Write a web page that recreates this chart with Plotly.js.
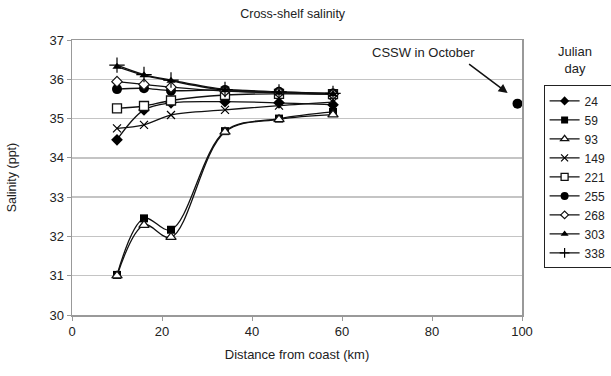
<!DOCTYPE html>
<html>
<head>
<meta charset="utf-8">
<script src="https://cdn.plot.ly/plotly-3.0.1.min.js"></script>
<style>
  html, body { margin: 0; padding: 0; background: #fff; }
  #chart { width: 611px; height: 376px; }
</style>
</head>
<body>
<div id="chart"></div>
<script>
// Distance from coast (km) of the sampling stations
const distanceKm = [10, 16, 22, 34, 46, 58];

// Salinity (ppt) per Julian day
const julianDays = ['24', '59', '93', '149', '221', '255', '268', '303', '338'];
const sal24  = [34.46, 35.22, 35.40, 35.43, 35.40, 35.35];
const sal59  = [31.02, 32.46, 32.17, 34.68, 35.00, 35.17];
const sal93  = [31.00, 32.29, 31.98, 34.66, 34.98, 35.10];
const sal149 = [34.75, 34.84, 35.09, 35.22, 35.33, 35.42];
const sal221 = [35.26, 35.32, 35.46, 35.60, 35.63, 35.62];
const sal255 = [35.75, 35.77, 35.71, 35.73, 35.68, 35.64];
const sal268 = [35.94, 35.87, 35.80, 35.70, 35.66, 35.62];
const sal303 = [36.32, 36.10, 35.96, 35.72, 35.66, 35.62];
const sal338 = [36.36, 36.12, 35.98, 35.74, 35.68, 35.64];

// Offshore CSSW sample in October
const csswX = [99];
const csswY = [35.38];

const series = [sal24, sal59, sal93, sal149, sal221, sal255, sal268, sal303, sal338];

// marker style for each day: [symbol, size, fill colour, outline width, legend size]
const markerStyles = [
  ['diamond', 9, '#000', 0, 7],
  ['square', 8, '#000', 0, 7],
  ['triangle-up', 9, '#fff', 1.3, 7],
  ['x-thin-open', 8, '#000', 1.2, 7],
  ['square', 9, '#fff', 1.3, 7],
  ['circle', 10, '#000', 0, 8],
  ['diamond', 8, '#fff', 1.2, 6],
  ['triangle-up', 8, '#000', 0, 7],
  ['cross-thin-open', 11, '#000', 1.2, 7]
];

const lineStyle = { color: '#111', width: 1.3, shape: 'spline', smoothing: 1 };

const traces = [];
series.forEach((vals, i) => {
  const s = markerStyles[i];
  traces.push({
    x: distanceKm,
    y: vals,
    name: julianDays[i],
    legendgroup: julianDays[i],
    showlegend: false,
    type: 'scatter',
    mode: 'lines+markers',
    line: lineStyle,
    marker: {
      symbol: s[0], size: s[1], color: s[2],
      line: { color: '#111', width: s[3] }
    },
    cliponaxis: false
  });
});

// legend keys with the smaller symbols used in the key box
series.forEach((vals, i) => {
  const s = markerStyles[i];
  traces.push({
    x: [null], y: [null],
    name: julianDays[i],
    legendgroup: julianDays[i],
    type: 'scatter',
    mode: 'lines+markers',
    line: { color: '#111', width: 1.2 },
    marker: {
      symbol: s[0], size: s[4], color: s[2],
      line: { color: '#111', width: s[3] }
    }
  });
});

traces.push({
  x: csswX, y: csswY, type: 'scatter', mode: 'markers',
  marker: { symbol: 'circle', size: 10, color: '#000' },
  showlegend: false, cliponaxis: false, hoverinfo: 'skip'
});

const font = { family: '"Liberation Sans", Arial, sans-serif', size: 13, color: '#222' };

const layout = {
  width: 611,
  height: 376,
  margin: { l: 72, r: 89, t: 40, b: 61, autoexpand: false },
  paper_bgcolor: '#fff',
  plot_bgcolor: '#fff',
  font: font,
  showlegend: true,
  title: {
    text: 'Cross-shelf salinity',
    font: { family: font.family, size: 12.5, color: '#222' },
    x: 0.479, xanchor: 'center', y: 0.963, yanchor: 'middle'
  },
  xaxis: {
    range: [0, 100],
    tickvals: [0, 20, 40, 60, 80, 100],
    ticks: 'outside', ticklen: 4, tickcolor: '#999',
    showgrid: false, zeroline: false,
    showline: true, linecolor: '#999', linewidth: 1.5, mirror: true,
    tickfont: { family: font.family, size: 13, color: '#222' },
    title: { text: 'Distance from coast (km)', standoff: 12,
             font: { family: font.family, size: 13, color: '#222' } }
  },
  yaxis: {
    range: [30, 37],
    tickvals: [30, 31, 32, 33, 34, 35, 36, 37],
    ticks: 'outside', ticklen: 4, tickcolor: '#999',
    showgrid: true, gridcolor: '#c4c4c4', gridwidth: 1.5,
    zeroline: false,
    showline: true, linecolor: '#999', linewidth: 1.5, mirror: true,
    tickfont: { family: font.family, size: 13, color: '#222' },
    title: { text: 'Salinity (ppt)', standoff: 30,
             font: { family: font.family, size: 12.5, color: '#222' } }
  },
  legend: {
    x: 1.048, xanchor: 'left',
    y: 0.835, yanchor: 'top',
    bgcolor: '#fff',
    bordercolor: '#222', borderwidth: 1,
    font: { family: font.family, size: 12, color: '#222' },
    itemwidth: 30,
    entrywidth: 70,
    tracegroupgap: 0
  },
  annotations: [
    {
      xref: 'paper', yref: 'paper', x: 1.118, y: 0.928,
      xanchor: 'center', yanchor: 'middle', showarrow: false,
      text: 'Julian<br>day', align: 'center',
      font: { family: font.family, size: 13, color: '#222' }
    },
    {
      xref: 'x', yref: 'y', x: 78, y: 36.67,
      xanchor: 'center', yanchor: 'middle', showarrow: false,
      text: 'CSSW in October',
      font: { family: font.family, size: 13, color: '#222' }
    },
    {
      xref: 'x', yref: 'y', x: 96.8, y: 35.65,
      text: '', showarrow: true,
      ax: -40, ay: -30,
      arrowhead: 2, arrowsize: 1.2, arrowwidth: 1.5, arrowcolor: '#111'
    }
  ]
};

Plotly.newPlot('chart', traces, layout, { displayModeBar: false, staticPlot: true });
</script>
</body>
</html>
